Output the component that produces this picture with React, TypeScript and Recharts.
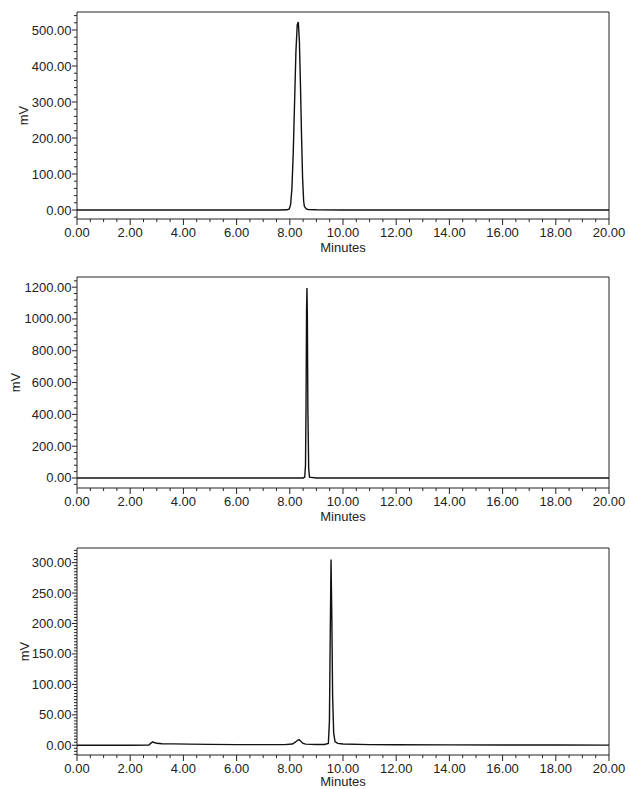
import { LineChart, Line, XAxis, YAxis, ReferenceLine } from 'recharts';

// run 1: single broad peak ~8.3 min
const run1Time = [0, 2, 4, 6, 7.6, 7.9, 7.98, 8.03, 8.08, 8.13, 8.18, 8.23, 8.28, 8.32, 8.36, 8.4, 8.44, 8.48, 8.52, 8.55, 8.58, 8.62, 8.7, 9.0, 10, 12, 14, 16, 18, 20];
const run1Signal = [0, 0, 0, 0, 0, 0.5, 3, 15, 60, 160, 300, 440, 515, 522, 470, 350, 210, 90, 25, 9, 7, 3, 1.5, 0.5, 0, 0, 0, 0, 0, 0];

// run 2: tall narrow spike ~8.65 min
const run2Time = [0, 2, 4, 6, 8, 8.5, 8.56, 8.59, 8.61, 8.63, 8.645, 8.66, 8.68, 8.71, 8.74, 9, 10, 12, 14, 16, 18, 20];
const run2Signal = [0, 0, 0, 0, 0, 0, 5, 80, 450, 1050, 1195, 1020, 420, 60, 5, 0, 0, 0, 0, 0, 0, 0];

// run 3: small bumps at 2.85 and 8.35, main peak ~9.55 min
const run3Time = [0, 1, 2, 2.7, 2.78, 2.85, 2.9, 3.0, 3.2, 3.6, 4.2, 5.0, 6.0, 7.0, 7.8, 8.1, 8.22, 8.3, 8.36, 8.42, 8.5, 8.6, 9.0, 9.3, 9.45, 9.49, 9.52, 9.55, 9.58, 9.61, 9.65, 9.7, 9.8, 10.0, 11, 12, 14, 16, 18, 20];
const run3Signal = [0, 0, 0, 0.3, 3.5, 5.5, 4.5, 3.2, 2.6, 2.2, 1.8, 1.4, 1.1, 1.0, 1.0, 2.0, 5.5, 8.5, 9, 6, 3, 1.8, 1.2, 1.2, 3, 40, 180, 305, 210, 80, 20, 6, 3, 2, 1, 0.8, 0.6, 0.5, 0.4, 0.3];

const xMajor = [0, 2, 4, 6, 8, 10, 12, 14, 16, 18, 20];
const run1Major = [0, 100, 200, 300, 400, 500];
const run2Major = [0, 200, 400, 600, 800, 1000, 1200];
const run3Major = [0, 50, 100, 150, 200, 250, 300];

const FONT = '"Liberation Sans", Arial, sans-serif';
const INK = '#222';

function steps(from: number, to: number, step: number) {
  const out: number[] = [];
  for (let v = from; v <= to + 1e-9; v += step) out.push(Math.round(v * 1000) / 1000);
  return out;
}

const xTicks = steps(0, 20, 0.5);

function zip(t: number[], v: number[]) {
  return t.map((time, i) => ({ t: time, v: v[i] }));
}

function YTick(props: any) {
  const { x, y, payload, majors } = props;
  const isMajor = majors.includes(payload.value);
  return (
    <g>
      <line x1={x - (isMajor ? 5 : 3)} x2={x} y1={y} y2={y} stroke={INK} strokeWidth={1} />
      {isMajor && (
        <text x={x - 5.5} y={y + 4.5} textAnchor="end" fontSize={13} fontFamily={FONT} fill={INK}>
          {payload.value.toFixed(2)}
        </text>
      )}
    </g>
  );
}

function XTick(props: any) {
  const { x, y, payload } = props;
  const isMajor = xMajor.includes(payload.value);
  return (
    <g>
      <line x1={x} x2={x} y1={y} y2={y + (isMajor ? 6 : 3)} stroke={INK} strokeWidth={1} />
      {isMajor && (
        <text x={x} y={y + 17.5} textAnchor="middle" fontSize={13} fontFamily={FONT} fill={INK}>
          {payload.value.toFixed(2)}
        </text>
      )}
    </g>
  );
}

interface PanelProps {
  time: number[];
  signal: number[];
  domain: [number, number];
  minorStep: number;
  majors: number[];
  top: number;
  height: number;
  marginTop: number;
  xAxisHeight: number;
  labelX: number;
  titleOffset: number;
}

function Panel({ time, signal, domain, minorStep, majors, top, height, marginTop, xAxisHeight, labelX, titleOffset }: PanelProps) {
  const first = Math.ceil(domain[0] / minorStep) * minorStep;
  const yTicks = steps(first, domain[1], minorStep);
  return (
    <div style={{ position: 'absolute', left: 0, top }}>
      <LineChart width={629} height={height} data={zip(time, signal)} margin={{ top: marginTop, right: 20, bottom: 0, left: 0 }}>
        <XAxis
          dataKey="t"
          type="number"
          domain={[0, 20]}
          ticks={xTicks}
          interval={0}
          allowDataOverflow
          height={xAxisHeight}
          tickLine={false}
          tickSize={0}
          tickMargin={0}
          axisLine={{ stroke: INK }}
          tick={(p: any) => <XTick {...p} />}
          label={{ value: 'Minutes', position: 'insideTop', offset: titleOffset, fontSize: 13, fontFamily: FONT, fill: INK }}
        />
        <YAxis
          type="number"
          domain={domain}
          ticks={yTicks}
          interval={0}
          allowDataOverflow
          width={77}
          tickLine={false}
          tickSize={0}
          tickMargin={0}
          axisLine={{ stroke: INK }}
          tick={(p: any) => <YTick {...p} majors={majors} />}
          label={(p: any) => {
            const vb = p.viewBox || { x: 0, y: 0, height: 0 };
            const cx = vb.x + labelX;
            const cy = vb.y + vb.height / 2;
            return (
              <text x={cx} y={cy} transform={`rotate(-90 ${cx} ${cy})`} textAnchor="middle" dominantBaseline="central" fontSize={13} fontFamily={FONT} fill={INK}>
                mV
              </text>
            );
          }}
        />
        <ReferenceLine y={domain[1]} stroke={INK} />
        <ReferenceLine x={20} stroke={INK} />
        <Line type="linear" dataKey="v" stroke="#111" strokeWidth={1.4} dot={false} isAnimationActive={false} />
      </LineChart>
    </div>
  );
}

export default function App() {
  return (
    <div style={{ position: 'absolute', left: 0, top: 0, width: 629, height: 789, background: '#fff', overflow: 'hidden' }}>
      <Panel time={run1Time} signal={run1Signal} domain={[-25, 550]} minorStep={20} majors={run1Major} top={0} height={262} marginTop={12} xAxisHeight={43} labelX={23} titleOffset={24} />
      <Panel time={run2Time} signal={run2Signal} domain={[-63, 1264]} minorStep={40} majors={run2Major} top={265} height={265} marginTop={12} xAxisHeight={42} labelX={15} titleOffset={24} />
      <Panel time={run3Time} signal={run3Signal} domain={[-16, 324]} minorStep={5} majors={run3Major} top={535} height={254} marginTop={13} xAxisHeight={34} labelX={24} titleOffset={22} />
    </div>
  );
}
